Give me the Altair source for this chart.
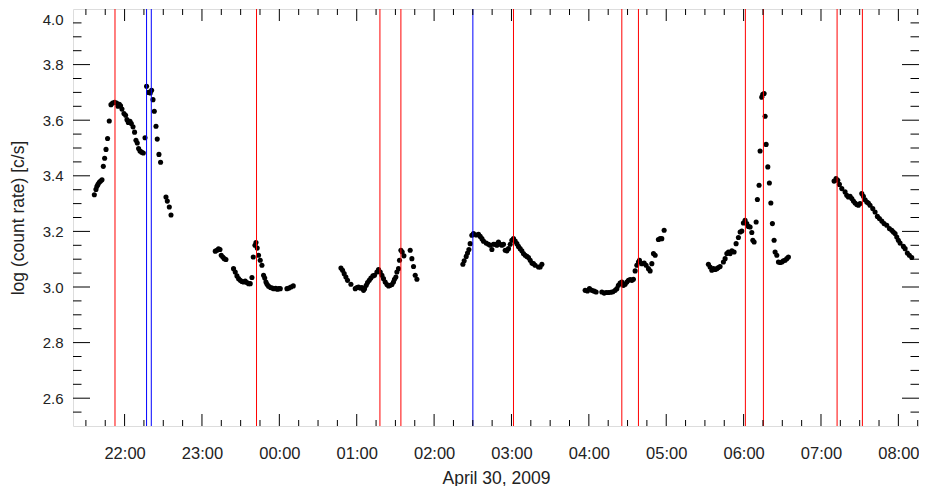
import altair as alt
import pandas as pd

# ---- data: clock time in hours (values above 24 are on April 30) and log count rate ----
hours1 = [21.609, 21.630, 21.643, 21.656, 21.673, 21.690, 21.708, 21.725, 21.742, 21.760, 21.780, 21.802,
          21.824, 21.845, 21.871, 21.897, 21.915, 21.932, 21.948, 21.966, 21.992, 22.013, 22.031, 22.048,
          22.070, 22.087, 22.109, 22.129, 22.147, 22.164, 22.181, 22.199, 22.220, 22.242, 22.264, 22.284,
          22.310, 22.332, 22.349, 22.367, 22.384, 22.406, 22.422, 22.444, 22.465, 22.535, 22.552, 22.578, 22.600]
rate1 = [3.332, 3.351, 3.362, 3.369, 3.377, 3.381, 3.386, 3.434, 3.463, 3.495, 3.534, 3.597,
         3.656, 3.662, 3.664, 3.662, 3.650, 3.657, 3.652, 3.640, 3.624, 3.618, 3.602, 3.592,
         3.596, 3.588, 3.576, 3.557, 3.528, 3.518, 3.498, 3.489, 3.485, 3.482, 3.537, 3.722,
         3.700, 3.698, 3.708, 3.674, 3.632, 3.578, 3.532, 3.477, 3.449, 3.324, 3.309, 3.288, 3.259]

hours2 = [23.172, 23.194, 23.214, 23.233, 23.249, 23.269, 23.288, 23.310, 23.408, 23.430, 23.452, 23.473,
          23.495, 23.517, 23.537, 23.559, 23.581, 23.602, 23.624, 23.646, 23.663, 23.685, 23.698, 23.714,
          23.731, 23.753, 23.775, 23.796, 23.811, 23.827, 23.841, 23.860, 23.886, 23.908, 23.928, 23.953,
          23.973, 23.992, 24.012, 24.098, 24.124, 24.150, 24.180]
rate2 = [3.129, 3.132, 3.137, 3.135, 3.114, 3.108, 3.102, 3.099, 3.066, 3.054, 3.040, 3.030,
         3.024, 3.020, 3.018, 3.021, 3.016, 3.012, 3.012, 3.034, 3.108, 3.150, 3.160, 3.140,
         3.114, 3.096, 3.078, 3.042, 3.032, 3.018, 3.010, 3.003, 2.998, 2.996, 2.994, 2.995,
         2.992, 2.994, 2.994, 2.994, 2.996, 3.000, 3.004]

hours3 = [24.796, 24.817, 24.838, 24.860, 24.881, 24.925, 24.981, 25.003, 25.023, 25.045, 25.067, 25.088,
          25.101, 25.123, 25.140, 25.162, 25.183, 25.209, 25.230, 25.261, 25.282, 25.304, 25.326, 25.346,
          25.368, 25.390, 25.411, 25.433, 25.455, 25.475, 25.488, 25.506, 25.519, 25.540, 25.553, 25.571,
          25.588, 25.610, 25.691, 25.713, 25.734, 25.756, 25.778]
rate3 = [3.068, 3.060, 3.048, 3.036, 3.024, 3.010, 2.994, 2.998, 3.000, 2.996, 2.998, 2.988,
         2.994, 3.006, 3.016, 3.024, 3.032, 3.040, 3.042, 3.054, 3.063, 3.054, 3.042, 3.030,
         3.018, 3.009, 3.004, 3.006, 3.009, 3.018, 3.028, 3.036, 3.054, 3.066, 3.096, 3.132,
         3.126, 3.112, 3.132, 3.102, 3.074, 3.042, 3.028]

hours4 = [26.372, 26.389, 26.415, 26.432, 26.450, 26.466, 26.488, 26.509, 26.544, 26.574, 26.596, 26.618,
          26.638, 26.673, 26.703, 26.725, 26.747, 26.767, 26.789, 26.811, 26.832, 26.854, 26.876, 26.897,
          26.919, 26.941, 26.961, 26.983, 27.005, 27.026, 27.048, 27.070, 27.090, 27.112, 27.134, 27.155,
          27.177, 27.199, 27.220, 27.242, 27.264, 27.284, 27.306, 27.349, 27.371, 27.393]
rate4 = [3.082, 3.094, 3.110, 3.122, 3.135, 3.156, 3.186, 3.192, 3.187, 3.190, 3.182, 3.174,
         3.165, 3.158, 3.154, 3.150, 3.135, 3.154, 3.154, 3.150, 3.162, 3.154, 3.150, 3.154,
         3.132, 3.130, 3.138, 3.154, 3.168, 3.174, 3.165, 3.156, 3.146, 3.138, 3.130, 3.120,
         3.114, 3.110, 3.106, 3.096, 3.086, 3.084, 3.078, 3.072, 3.072, 3.082]

hours5 = [27.952, 27.982, 28.008, 28.039, 28.069, 28.094, 28.168, 28.198, 28.224, 28.253, 28.284, 28.310,
          28.340, 28.362, 28.382, 28.404, 28.426, 28.447, 28.469, 28.491, 28.512, 28.534, 28.556, 28.576,
          28.598, 28.620, 28.641, 28.654, 28.685, 28.715, 28.740, 28.770, 28.792, 28.814, 28.835, 28.857,
          28.899, 28.921, 28.943, 28.973]
rate5 = [2.988, 2.986, 2.994, 2.988, 2.985, 2.982, 2.982, 2.978, 2.980, 2.980, 2.981, 2.983,
         2.988, 2.994, 3.006, 3.014, 3.018, 3.006, 3.010, 3.018, 3.024, 3.027, 3.024, 3.028,
         3.058, 3.078, 3.090, 3.096, 3.084, 3.086, 3.078, 3.066, 3.058, 3.084, 3.120, 3.114,
         3.171, 3.174, 3.174, 3.204]

hours6 = [29.545, 29.567, 29.589, 29.610, 29.632, 29.654, 29.674, 29.696, 29.739, 29.761, 29.783, 29.804,
          29.826, 29.848, 29.877, 29.903, 29.933, 29.955, 29.977, 29.997, 30.019, 30.041, 30.062, 30.084,
          30.106, 30.119, 30.136, 30.162, 30.178, 30.200, 30.213, 30.235, 30.248, 30.265, 30.278, 30.291,
          30.313, 30.333, 30.352, 30.372, 30.394, 30.407, 30.429, 30.450, 30.472, 30.494, 30.514, 30.536,
          30.558, 30.579]
rate6 = [3.082, 3.072, 3.060, 3.066, 3.063, 3.066, 3.070, 3.074, 3.090, 3.102, 3.120, 3.126,
         3.120, 3.130, 3.126, 3.156, 3.178, 3.198, 3.201, 3.230, 3.240, 3.228, 3.218, 3.216,
         3.196, 3.168, 3.162, 3.234, 3.315, 3.366, 3.489, 3.683, 3.693, 3.696, 3.614, 3.513,
         3.432, 3.374, 3.302, 3.228, 3.168, 3.126, 3.114, 3.090, 3.088, 3.090, 3.094, 3.096,
         3.102, 3.108]

hours7 = [31.169, 31.195, 31.217, 31.238, 31.269, 31.311, 31.333, 31.354, 31.376, 31.398, 31.419, 31.441,
          31.463, 31.483, 31.505, 31.527, 31.548, 31.570, 31.592, 31.612, 31.634, 31.669, 31.699, 31.729,
          31.755, 31.786, 31.815, 31.850, 31.884, 31.915, 31.935, 31.957, 31.979, 32.000, 32.022, 32.065,
          32.087, 32.116, 32.142, 32.173]
rate7 = [3.381, 3.390, 3.384, 3.369, 3.354, 3.342, 3.330, 3.324, 3.326, 3.318, 3.309, 3.302,
         3.297, 3.294, 3.300, 3.336, 3.326, 3.314, 3.306, 3.302, 3.294, 3.282, 3.270, 3.254,
         3.246, 3.237, 3.228, 3.222, 3.210, 3.204, 3.198, 3.192, 3.180, 3.168, 3.158, 3.146,
         3.138, 3.122, 3.114, 3.106]

# event markers (vertical lines)
event_hours = [21.876, 22.284, 22.345, 23.705, 25.300, 25.571, 26.501, 27.026,
               28.426, 28.641, 30.023, 30.256, 31.208, 31.535]
event_colors = ["#ff0000", "#0000ff", "#0000ff", "#ff0000", "#ff0000", "#ff0000", "#0000ff", "#ff0000",
                "#ff0000", "#ff0000", "#ff0000", "#ff0000", "#ff0000", "#ff0000"]

# axis ticks / labels
x_label_hours = [22, 23, 24, 25, 26, 27, 28, 29, 30, 31, 32]
x_minor_hours = [h + q for h in range(21, 33) for q in (0.25, 0.5, 0.75) if 21.333 < h + q < 32.267]
y_label_values = [2.6, 2.8, 3.0, 3.2, 3.4, 3.6, 3.8, 4.0]
y_major_ticks = [2.6, 2.8, 3.0, 3.2, 3.4, 3.6, 3.8]
y_minor_ticks = [2.55, 2.65, 2.70, 2.75, 2.85, 2.90, 2.95, 3.05, 3.10, 3.15, 3.25, 3.30, 3.35,
                 3.45, 3.50, 3.55, 3.65, 3.70, 3.75, 3.85, 3.90, 3.95]

W, H = 846, 417
FONT = "Liberation Sans"
INK = "#222222"

hours = hours1 + hours2 + hours3 + hours4 + hours5 + hours6 + hours7
rates = rate1 + rate2 + rate3 + rate4 + rate5 + rate6 + rate7
df = pd.DataFrame({"hour": hours, "rate": rates})
ev = pd.DataFrame({"hour": event_hours, "color": event_colors})
xmaj = pd.DataFrame({"hour": x_label_hours})
xmin = pd.DataFrame({"hour": x_minor_hours})
ymaj = pd.DataFrame({"rate": y_major_ticks})
ymin = pd.DataFrame({"rate": y_minor_ticks})

xs = alt.Scale(domain=[21.3333, 32.2667], nice=False, zero=False)
ys = alt.Scale(domain=[2.5, 4.0], nice=False, zero=False)

x_axis = alt.Axis(
    values=x_label_hours,
    labelExpr="(datum.value % 24 < 10 ? '0' : '') + (datum.value % 24) + ':00'",
    title="April 30, 2009", ticks=False, domain=False, grid=False,
    labelFont=FONT, labelFontSize=16.5, labelColor=INK, labelPadding=19, labelOverlap=False,
    titleFont=FONT, titleFontSize=17.5, titleColor=INK, titleFontWeight="normal",
    titleY=52, titleBaseline="middle",
)
y_axis = alt.Axis(
    values=y_label_values, format=".1f",
    title="log (count rate) [c/s]", ticks=False, domain=False, grid=False,
    labelFont=FONT, labelFontSize=15, labelColor=INK, labelPadding=10, labelOverlap=False,
    labelFlush=True, labelFlushOffset=-3,
    titleFont=FONT, titleFontSize=17.5, titleColor=INK, titleFontWeight="normal",
    titleX=-55, titleY=H / 2, titleAngle=270, titleAlign="center", titleBaseline="middle",
)

X = alt.X("hour:Q", scale=xs, axis=x_axis, title="April 30, 2009")
Y = alt.Y("rate:Q", scale=ys, axis=y_axis, title="log (count rate) [c/s]")

points = alt.Chart(df).mark_circle(size=26, color="black", opacity=1).encode(x=X, y=Y)

events = alt.Chart(ev).mark_rule(strokeWidth=1).encode(
    x=X,
    color=alt.Color("color:N", scale=None),
)


def xticks(data, length):
    bottom = alt.Chart(data).mark_rule(color="black", strokeWidth=1).encode(
        x=X, y=alt.value(H), y2=alt.value(H - length))
    top = alt.Chart(data).mark_rule(color="black", strokeWidth=1).encode(
        x=X, y=alt.value(0), y2=alt.value(length))
    return [bottom, top]


def yticks(data, length):
    left = alt.Chart(data).mark_rule(color="black", strokeWidth=1).encode(
        y=Y, x=alt.value(0), x2=alt.value(length))
    right = alt.Chart(data).mark_rule(color="black", strokeWidth=1).encode(
        y=Y, x=alt.value(W), x2=alt.value(W - length))
    return [left, right]


layers = [points, events] + xticks(xmaj, 12) + xticks(xmin, 6) + yticks(ymaj, 17) + yticks(ymin, 8.5)

chart = alt.layer(*layers).properties(
    width=W, height=H,
    autosize=alt.AutoSizeParams(type="none"),
    padding={"left": 65, "top": 1, "right": 0, "bottom": 60},
).configure_view(stroke="black", strokeWidth=1).configure(background="white")

chart.save("out.html", embed_options={"renderer": "svg", "actions": False})
